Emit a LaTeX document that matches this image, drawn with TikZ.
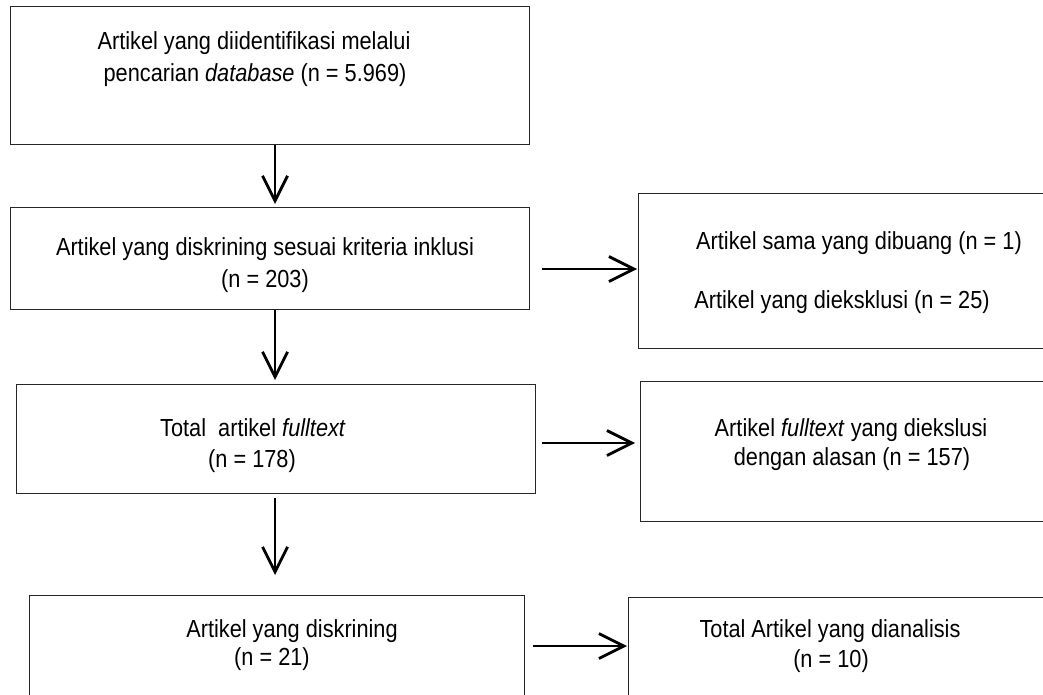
\documentclass[tikz,border=0pt]{standalone}
\usepackage{fontspec}
\setmainfont{Liberation Sans}[FakeStretch=0.88]
\usetikzlibrary{arrows.meta}
\begin{document}
\begin{tikzpicture}[x=1pt,y=-1pt,
  boxnode/.style={draw=black!85, line width=1.2pt, inner sep=0pt, anchor=north west},
  txt/.style={anchor=base, inner sep=0pt, font=\fontsize{24.7pt}{30pt}\selectfont},
  arr/.style={line width=2.8pt, -{Straight Barb[length=25pt,width=25pt]}}]
\useasboundingbox (0,0) rectangle (1043,695);
\clip (0,0) rectangle (1043,695);
% boxes
\node[boxnode, minimum width=519pt, minimum height=138pt] (b1) at (10,6) {};
\node[boxnode, minimum width=519pt, minimum height=102pt] (b2) at (10,207) {};
\node[boxnode, minimum width=420pt, minimum height=155pt] (b3) at (638,193) {};
\node[boxnode, minimum width=519pt, minimum height=109pt] (b4) at (16,384) {};
\node[boxnode, minimum width=420pt, minimum height=140pt] (b5) at (640,381) {};
\node[boxnode, minimum width=495pt, minimum height=120pt] (b6) at (29,595) {};
\node[boxnode, minimum width=430pt, minimum height=120pt] (b7) at (628,597) {};
% texts
\node[txt] (t1a) at (254,50) {Artikel yang diidentifikasi melalui};
\node[txt] (t1b) at (255,82) {pencarian \textit{database} (n = 5.969)};
\node[txt] (t2a) at (265,255) {Artikel yang diskrining sesuai kriteria inklusi};
\node[txt] (t2b) at (265,287) {(n = 203)};
\node[txt] (t3a) at (859,249) {Artikel sama yang dibuang (n = 1)};
\node[txt] (t3b) at (842,308) {Artikel yang dieksklusi (n = 25)};
\node[txt] (t4a) at (253,436) {Total\ \ artikel \textit{fulltext}};
\node[txt] (t4b) at (252,467) {(n = 178)};
\node[txt] (t5a) at (851,436) {Artikel \textit{fulltext} yang diekslusi};
\node[txt] (t5b) at (852,465) {dengan alasan (n = 157)};
\node[txt] (t6a) at (292,637) {Artikel yang diskrining};
\node[txt] (t6b) at (272,665) {(n = 21)};
\node[txt] (t7a) at (830,637) {Total Artikel yang dianalisis};
\node[txt] (t7b) at (831,667) {(n = 10)};
% connector guides
\coordinate (ax) at (275,0);
\coordinate (h1) at (0,269);
\coordinate (h2) at (0,443);
\coordinate (h3) at (0,646);
% arrows
\draw[arr, shorten >=3pt] (b1.south -| ax) -- (b2.north -| ax);
\draw[arr, shorten >=4pt] (b2.south -| ax) -- (b4.north -| ax);
\draw[arr, shorten <=4pt, shorten >=20pt] (b4.south -| ax) -- (b6.north -| ax);
\draw[arr, shorten <=12pt, shorten >=1pt] (b2.east |- h1) -- (b3.west |- h1);
\draw[arr, shorten <=6pt, shorten >=5pt] (b4.east |- h2) -- (b5.west |- h2);
\draw[arr, shorten <=8pt, shorten >=1pt] (b6.east |- h3) -- (b7.west |- h3);
\end{tikzpicture}
\end{document}
